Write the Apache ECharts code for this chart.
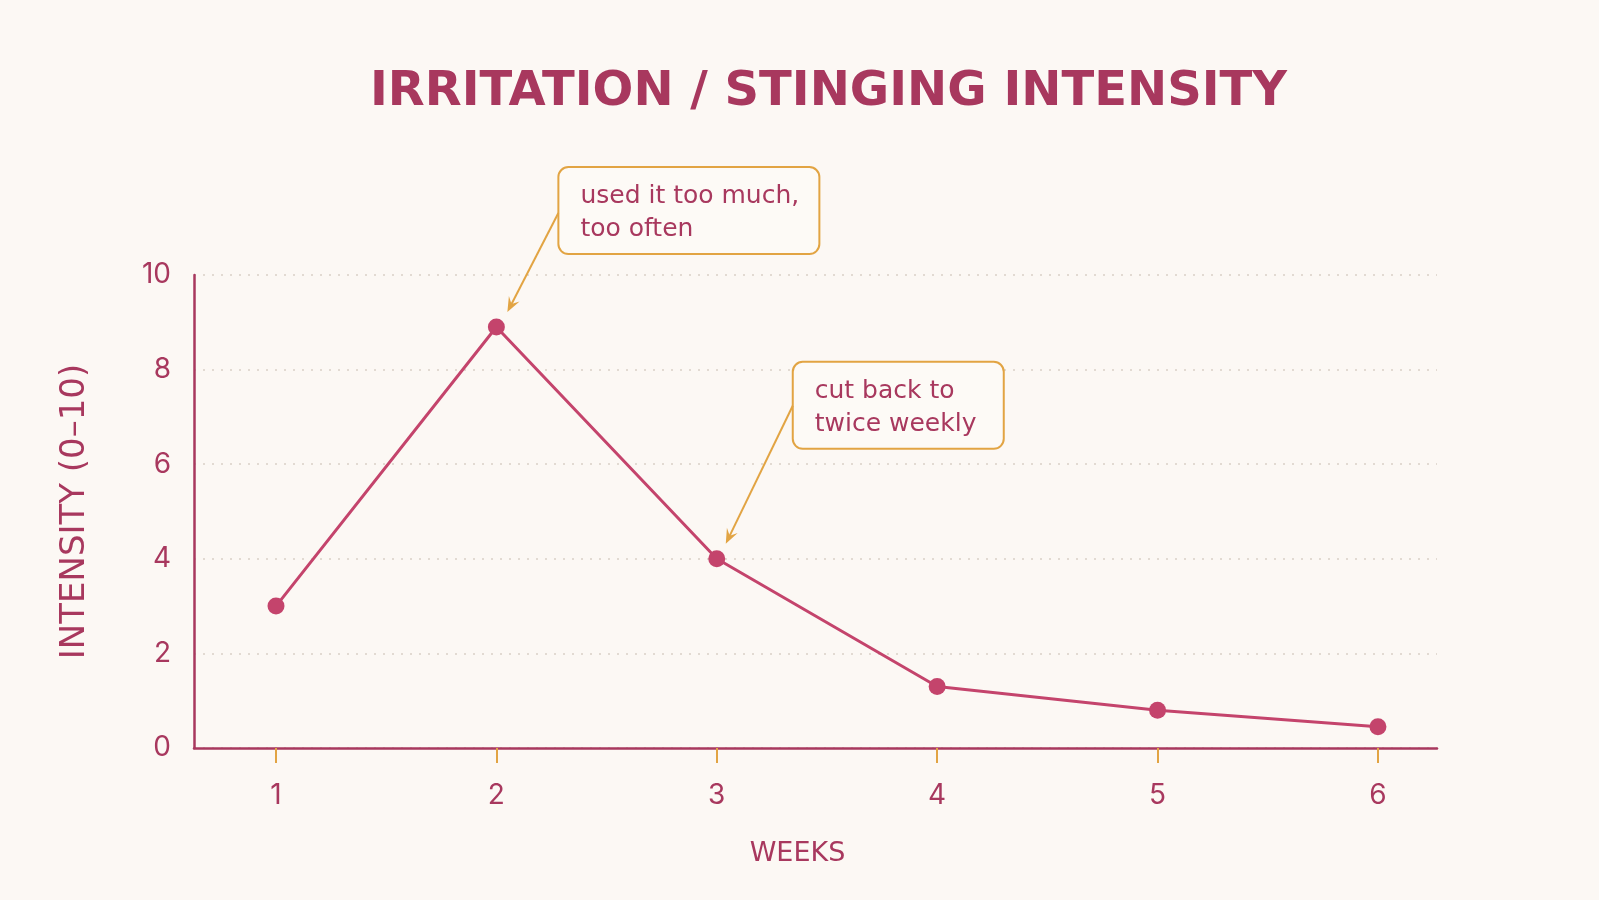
<!DOCTYPE html>
<html>
<head>
<meta charset="utf-8">
<script src="https://cdn.jsdelivr.net/npm/echarts@6/dist/echarts.min.js"></script>
<style>
  html, body { margin: 0; padding: 0; background: #fcf8f4; }
  #main { width: 1599px; height: 900px; }
</style>
</head>
<body>
<div id="main"></div>
<script>
// data
var weeks = [1, 2, 3, 4, 5, 6];
var intensity = [3.0, 8.9, 4.0, 1.3, 0.8, 0.45];
var noteWeeks = [2, 3];
var noteTexts = ["used it too much,\ntoo often", "cut back to\ntwice weekly"];

var plum = "#a8385e";
var rose = "#c4446c";
var gold = "#e2a443";
var wide = "DejaVu Sans";
var nums = "Inter";

(function() {
  var myChart = echarts.init(document.getElementById("main"));
  var points = weeks.map(function(w, i) { return [w, intensity[i]]; });

  var option = {
    backgroundColor: "#fcf8f4",
    title: {
      text: "IRRITATION / STINGING INTENSITY",
      left: "51.5%",
      textAlign: "center",
      top: 64,
      textStyle: {
        fontFamily: wide,
        fontWeight: "bold",
        fontSize: 48,
        color: plum
      }
    },
    grid: {
      left: 194,
      right: 162,
      top: 275,
      bottom: 152
    },
    xAxis: {
      type: "value",
      min: 0.628,
      max: 6.268,
      name: "WEEKS",
      nameLocation: "middle",
      nameGap: 92,
      nameTextStyle: {
        fontFamily: wide,
        fontSize: 27,
        color: plum,
        padding: [0, 36, 0, 0]
      },
      axisLine: { lineStyle: { color: plum, width: 2.5 } },
      axisTick: {
        customValues: weeks,
        length: 15,
        lineStyle: { color: gold, width: 2 }
      },
      axisLabel: {
        customValues: weeks,
        margin: 34,
        fontFamily: nums,
        fontSize: 28,
        color: plum
      },
      splitLine: { show: false }
    },
    yAxis: {
      type: "value",
      min: 0,
      max: 10,
      interval: 2,
      name: "INTENSITY (0\u201310)",
      nameLocation: "middle",
      nameGap: 102,
      nameTextStyle: { fontFamily: wide, fontSize: 34, color: plum },
      axisLine: { show: true, lineStyle: { color: plum, width: 2.5 } },
      axisTick: { show: false },
      axisLabel: {
        margin: 23,
        fontFamily: nums,
        fontSize: 28,
        color: plum
      },
      splitLine: {
        lineStyle: { color: "#d9cfc6", type: [2, 7], width: 1.5 }
      }
    },
    series: [
      {
        type: "line",
        data: points,
        symbol: "circle",
        symbolSize: 17,
        itemStyle: { color: rose },
        lineStyle: { color: rose, width: 3 },
        z: 3
      }
    ]
  };
  myChart.setOption(option);

  // annotation boxes + arrows, anchored on their data point
  var layout = [
    { box: [62, -160, 261, 87], from: [62, -114], tip: [11, -15] },
    { box: [76, -197, 211, 87], from: [76, -153], tip: [9, -15] }
  ];
  var els = [];
  noteWeeks.forEach(function(w, i) {
    var p = myChart.convertToPixel({ gridIndex: 0 }, [w, intensity[weeks.indexOf(w)]]);
    var L = layout[i];
    var bx = p[0] + L.box[0], by = p[1] + L.box[1];
    els.push({
      type: "rect",
      shape: { x: bx, y: by, width: L.box[2], height: L.box[3], r: 10 },
      style: { fill: "#fdfaf6", stroke: gold, lineWidth: 2 },
      z: 10
    });
    els.push({
      type: "text",
      x: bx + 22,
      y: by + 13,
      style: {
        text: noteTexts[i],
        fill: plum,
        font: "25px '" + wide + "'",
        lineHeight: 33
      },
      z: 11
    });
    var sx = p[0] + L.from[0], sy = p[1] + L.from[1];
    var tx = p[0] + L.tip[0], ty = p[1] + L.tip[1];
    var dx = tx - sx, dy = ty - sy, len = Math.sqrt(dx * dx + dy * dy);
    var ux = dx / len, uy = dy / len, nx = -uy, ny = ux;
    var hl = 15, hw = 6;
    els.push({
      type: "line",
      shape: { x1: sx, y1: sy, x2: tx - ux * 8, y2: ty - uy * 8 },
      style: { stroke: gold, lineWidth: 2 },
      z: 10
    });
    els.push({
      type: "polygon",
      shape: {
        points: [
          [tx, ty],
          [tx - ux * hl + nx * hw, ty - uy * hl + ny * hw],
          [tx - ux * hl * 0.6, ty - uy * hl * 0.6],
          [tx - ux * hl - nx * hw, ty - uy * hl - ny * hw]
        ]
      },
      style: { fill: gold },
      z: 10
    });
  });
  myChart.setOption({ graphic: els });

  window.addEventListener("resize", function() {
    myChart.resize();
  });
})();
</script>
</body>
</html>
